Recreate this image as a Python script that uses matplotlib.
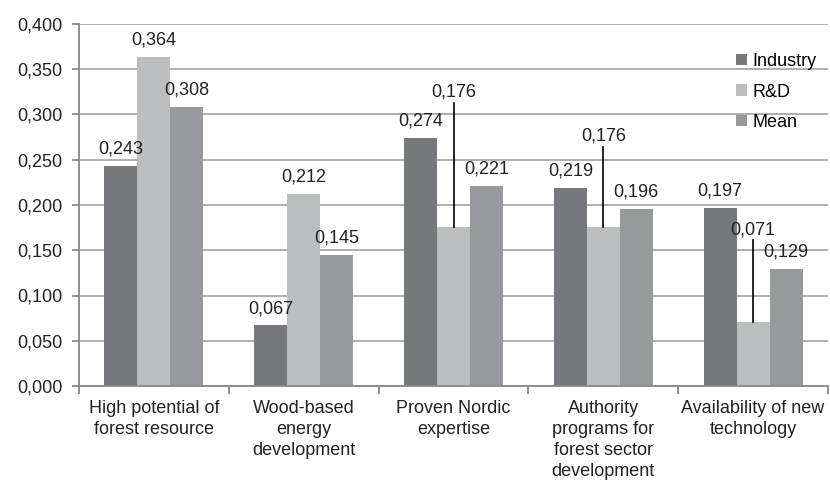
import numpy as np
import matplotlib
matplotlib.use('Agg')
import matplotlib.pyplot as plt
from matplotlib.ticker import FuncFormatter, MultipleLocator, FixedLocator

plt.rcParams['font.family'] = ['Liberation Sans', 'DejaVu Sans']

categories = ['High potential of\nforest resource',
              'Wood-based\nenergy\ndevelopment',
              'Proven Nordic\nexpertise',
              'Authority\nprograms for\nforest sector\ndevelopment',
              'Availability of new\ntechnology']
series = ['Industry', 'R&D', 'Mean']
industry = [0.243, 0.067, 0.274, 0.219, 0.197]
rnd = [0.364, 0.212, 0.176, 0.176, 0.071]
mean = [0.308, 0.145, 0.221, 0.196, 0.129]
colors = ['#77787b', '#bcbdbf', '#97999c']

# R&D labels lifted above the neighbours, with a leader line up to this height
leaders = {2: 0.313, 3: 0.264, 4: 0.161}


def fmt(v):
    return ('%.3f' % v).replace('.', ',')


fig = plt.figure(figsize=(8.3, 4.8), dpi=100)
ax = fig.add_axes([79 / 830, 1 - 386 / 480, 749 / 830, 362 / 480])

x = np.arange(len(categories))
w = 0.22
for i, (name, vals, c) in enumerate(zip(series, [industry, rnd, mean], colors)):
    xs = x + (i - 1) * w
    ax.bar(xs, vals, w, color=c, label=name, zorder=2)
    for j, (xx, v) in enumerate(zip(xs, vals)):
        if i == 1 and j in leaders:
            top = leaders[j]
            ax.plot([xx, xx], [v, top], color='black', lw=1.2, zorder=3)
            ax.annotate(fmt(v), (xx, top), xytext=(0, 1.5), textcoords='offset points',
                        ha='center', va='bottom', fontsize=13, color='#222222')
        else:
            ax.annotate(fmt(v), (xx, v), xytext=(0, 6), textcoords='offset points',
                        ha='center', va='bottom', fontsize=13, color='#222222')

ax.set_xlim(-0.5, len(categories) - 0.5)
ax.set_ylim(0, 0.4)
ax.yaxis.set_major_locator(MultipleLocator(0.05))
ax.yaxis.set_major_formatter(FuncFormatter(lambda v, p: fmt(v)))
ax.grid(axis='y', color='#a8a8a8', lw=1.3, zorder=0)
ax.set_axisbelow(True)

ax.set_xticks(x)
ax.set_xticklabels(categories, fontsize=13, color='#222222', linespacing=1.3)
ax.xaxis.set_minor_locator(FixedLocator(np.arange(len(categories) + 1) - 0.5))
ax.tick_params(axis='x', which='major', length=0, pad=10)
ax.tick_params(axis='x', which='minor', length=6, color='#888888', width=1.3)
ax.tick_params(axis='y', length=5, color='#888888', width=1.3, labelsize=13,
               labelcolor='#222222', pad=7)

for s in ['top', 'right']:
    ax.spines[s].set_visible(False)
for s in ['left', 'bottom']:
    ax.spines[s].set_color('#888888')
    ax.spines[s].set_linewidth(1.3)

ax.legend(loc='upper left', bbox_to_anchor=(736 / 830, 1 - 53 / 480),
          bbox_transform=fig.transFigure, frameon=False, fontsize=13,
          handlelength=0.6, handleheight=0.6, handletextpad=0.3,
          labelspacing=0.75, borderpad=0, borderaxespad=0)

fig.savefig('out.png', dpi=100)
